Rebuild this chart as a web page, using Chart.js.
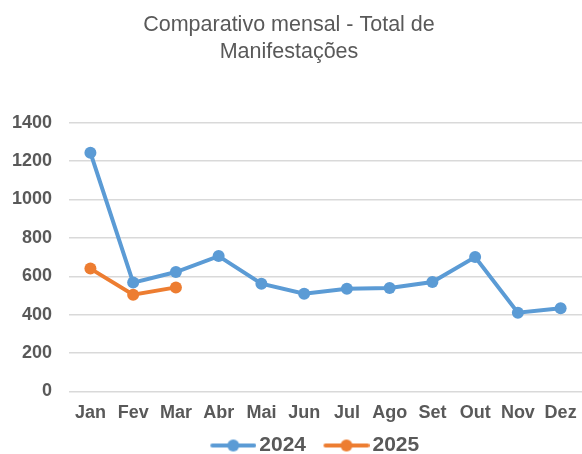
<!DOCTYPE html>
<html>
<head>
<meta charset="utf-8">
<script src="https://cdn.jsdelivr.net/npm/chart.js@4"></script>
<style>
  body { margin: 0; background: #fff; }
  canvas { display: block; }
</style>
</head>
<body>
<canvas id="chart" width="582" height="454"></canvas>
<script>
const months = ['Jan', 'Fev', 'Mar', 'Abr', 'Mai', 'Jun', 'Jul', 'Ago', 'Set', 'Out', 'Nov', 'Dez'];
const values2024 = [1244, 567, 622, 705, 561, 509, 535, 539, 570, 700, 410, 433];
const values2025 = [640, 504, 542];
const titleLines = ['Comparativo mensal - Total de', 'Manifestações'];

const blue = '#5B9BD5';
const orange = '#ED7D31';
const textGray = '#595959';
const fontFamily = 'Liberation Sans, Arial, sans-serif';

// line + dot marker for the legend; transparent room on the left gives the gap between items
function legendMarker(color) {
    const c = document.createElement('canvas');
    c.width = 71;
    c.height = 14;
    const ctx = c.getContext('2d');
    ctx.strokeStyle = color;
    ctx.lineWidth = 4;
    ctx.lineCap = 'round';
    ctx.beginPath();
    ctx.moveTo(27, 7);
    ctx.lineTo(69, 7);
    ctx.stroke();
    ctx.fillStyle = color;
    ctx.beginPath();
    ctx.arc(48, 7, 6, 0, Math.PI * 2);
    ctx.fill();
    return c;
}
const markers = [legendMarker(blue), legendMarker(orange)];

// nudge the legend right and the title slightly left, like in the original sheet
const blockShift = {
    id: 'blockShift',
    afterLayout(chart) {
        if (chart.legend) {
            chart.legend.left += 9;
            chart.legend.right += 9;
        }
        if (chart.titleBlock) {
            chart.titleBlock.left -= 8;
            chart.titleBlock.right -= 8;
        }
    }
};

new Chart(document.getElementById('chart').getContext('2d'), {
    type: 'line',
    data: {
        labels: months,
        datasets: [{
            label: '2024',
            data: values2024,
            borderColor: blue,
            backgroundColor: blue,
            borderWidth: 4,
            pointRadius: 6,
            pointBorderWidth: 0,
            tension: 0
        }, {
            label: '2025',
            data: values2025,
            borderColor: orange,
            backgroundColor: orange,
            borderWidth: 4,
            pointRadius: 6,
            pointBorderWidth: 0,
            tension: 0
        }]
    },
    plugins: [blockShift],
    options: {
        responsive: false,
        animation: false,
        layout: { autoPadding: false, padding: { left: 12, right: 0, top: 12, bottom: -12 } },
        plugins: {
            title: {
                display: true,
                text: titleLines,
                color: textGray,
                font: { family: fontFamily, size: 21.5, weight: 'normal', lineHeight: 1.25 },
                padding: { top: 0, bottom: 57 }
            },
            legend: {
                position: 'bottom',
                labels: {
                    usePointStyle: true,
                    pointStyleWidth: 56,
                    color: textGray,
                    font: { family: fontFamily, size: 21, weight: 'bold', lineHeight: 1 },
                    padding: 0,
                    generateLabels: chart => {
                        const items = Chart.defaults.plugins.legend.labels.generateLabels(chart);
                        items.forEach((item, i) => { item.pointStyle = markers[i]; });
                        return items;
                    }
                }
            },
            tooltip: { enabled: false }
        },
        scales: {
            x: {
                offset: true,
                grid: { display: false, drawTicks: false },
                border: { display: false },
                ticks: {
                    color: textGray,
                    padding: 11,
                    font: { family: fontFamily, size: 18, weight: 'bold' }
                },
                afterFit: scale => {
                    scale.paddingRight = 0;
                }
            },
            y: {
                min: 0,
                max: 1400,
                ticks: {
                    stepSize: 200,
                    color: textGray,
                    padding: 17,
                    font: { family: fontFamily, size: 18, weight: 'bold' },
                    callback: value => String(value)
                },
                grid: { color: '#d9d9d9', lineWidth: 1.5, drawTicks: false },
                border: { display: false },
                afterFit: scale => {
                    scale.width -= 17;
                }
            }
        }
    }
});
</script>
</body>
</html>
